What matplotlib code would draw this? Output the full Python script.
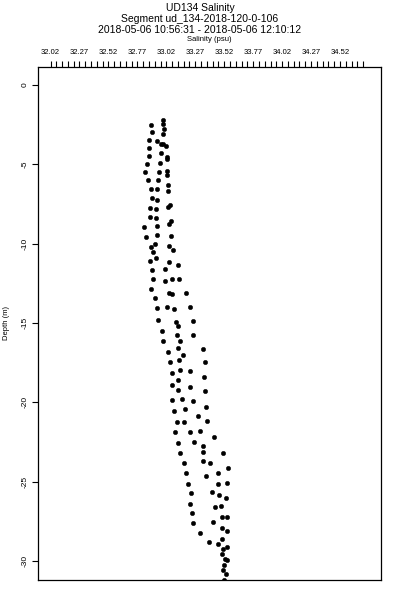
import matplotlib
matplotlib.use("Agg")
import matplotlib.pyplot as plt
import numpy as np

plt.rcParams['font.family'] = ['Liberation Sans', 'DejaVu Sans']

# salinity (psu) and depth (m)
salinity = [
    32.994, 32.885, 32.994, 33.000, 32.894, 32.989, 32.871, 32.942, 32.977, 32.994,
    33.015, 32.868, 32.972, 33.023, 33.023, 32.873, 32.968, 32.853, 32.836, 32.954,
    33.026, 33.026, 32.862, 32.948, 33.032, 32.888, 32.937, 33.035, 32.894, 32.937,
    33.049, 33.037, 32.879, 32.928, 32.879, 32.934, 33.063, 33.046, 32.827, 32.937,
    32.847, 32.940, 33.063, 32.920, 32.885, 33.041, 33.078, 32.903, 32.928, 32.879,
    33.043, 33.124, 32.897, 33.011, 32.905, 33.009, 33.067, 33.132, 32.890, 33.046,
    33.072, 33.190, 32.925,
    32.937, 33.023, 33.086, 33.225, 32.946, 33.104, 33.118, 33.248, 32.985, 33.115,
    33.248, 32.989, 33.136, 33.124, 33.334, 33.037, 33.164, 33.130, 33.052, 33.354,
    33.138, 33.222, 33.067, 33.124, 33.348, 33.072, 33.124, 33.222, 33.357, 33.072,
    33.156, 33.251, 33.363, 33.084, 33.182, 33.294, 33.112, 33.175, 33.374, 33.095,
    33.225, 33.314, 33.432, 33.124, 33.262, 33.340, 33.141, 33.337, 33.512, 33.334,
    33.175, 33.400, 33.555, 33.193, 33.464, 33.363, 33.542, 33.205, 33.469, 33.415,
    33.478, 33.538, 33.233, 33.225, 33.438, 33.490, 33.239, 33.501, 33.544, 33.253,
    33.421, 33.498, 33.542, 33.311, 33.391, 33.464, 33.504, 33.542, 33.510, 33.498,
    33.527, 33.544, 33.521, 33.510, 33.538, 33.518,
]
depth = [
    -2.21, -2.52, -2.48, -2.79, -2.98, -3.11, -3.48, -3.55, -3.70, -3.72,
    -3.86, -3.99, -4.30, -4.52, -4.68, -4.45, -4.90, -4.96, -5.46, -5.46,
    -5.40, -5.67, -6.01, -6.01, -6.32, -6.57, -6.57, -6.66, -7.12, -7.25,
    -7.58, -7.71, -7.75, -7.81, -8.34, -8.36, -8.55, -8.76, -8.95, -8.88,
    -9.56, -9.45, -9.51, -10.02, -10.21, -10.13, -10.42, -10.54, -10.92, -11.11,
    -11.17, -11.32, -11.68, -11.59, -12.24, -12.37, -12.21, -12.22, -12.85, -13.09,
    -13.19, -13.13, -13.44,
    -14.07, -14.01, -14.11, -13.97, -14.81, -14.93, -15.17, -14.89, -15.50, -15.73,
    -15.73, -16.15, -16.15, -16.55, -16.62, -16.82, -17.03, -17.33, -17.47, -17.45,
    -17.96, -18.04, -18.17, -18.59, -18.38, -18.88, -19.20, -19.03, -19.30, -19.85,
    -19.79, -19.93, -20.27, -20.52, -20.42, -20.86, -21.24, -21.22, -21.19, -21.88,
    -21.85, -21.80, -22.16, -22.54, -22.48, -22.73, -23.17, -23.14, -23.17, -23.67,
    -23.84, -23.80, -24.13, -24.47, -24.47, -24.64, -25.08, -25.12, -25.16, -25.66,
    -25.84, -26.02, -25.73, -26.38, -26.57, -26.53, -26.99, -27.22, -27.22, -27.58,
    -27.52, -27.90, -28.10, -28.21, -28.82, -28.90, -28.61, -29.09, -29.22, -29.55,
    -29.85, -29.91, -30.27, -30.56, -30.81, -31.19,
]

x_major = [32.02, 32.27, 32.52, 32.77, 33.02, 33.27, 33.52, 33.77, 34.02, 34.27, 34.52]
x_labels = ["32.02", "32.27", "32.52", "32.77", "33.02", "33.27", "33.52",
            "33.77", "34.02", "34.27", "34.52"]
y_ticks = [0, -5, -10, -15, -20, -25, -30]

fig = plt.figure(figsize=(4, 6), dpi=100)
ax = fig.add_axes([38 / 400, 1 - 580 / 600, (381 - 38) / 400, (580 - 67) / 600])

ax.plot(salinity, depth, 'o', color='black', ms=3.2, mec='black', mew=0.3)

ax.set_xlim(31.912, 34.874)
ax.set_ylim(-31.2, 1.13)

ax.xaxis.tick_top()
ax.xaxis.set_label_position('top')
ax.set_xticks(x_major)
ax.set_xticklabels(x_labels, fontsize=5.5)
ax.set_xticks(np.arange(32.02, 34.75, 0.05), minor=True)
ax.tick_params(axis='x', which='both', direction='out', length=4, width=0.8, pad=4)
ax.set_xlabel("Salinity (psu)", fontsize=5.5, labelpad=6)

ax.set_yticks(y_ticks)
ax.set_yticklabels([str(t) for t in y_ticks], fontsize=6, rotation=90, va='center')
ax.tick_params(axis='y', direction='out', length=4, width=0.8, pad=3)

for s in ax.spines.values():
    s.set_linewidth(0.9)

fig.text(7 / 400, 1 - 323 / 600, "Depth (m)", rotation=90, ha='center', va='center',
         fontsize=5.5)
fig.text(0.5, 1 - 8 / 600, "UD134 Salinity", ha='center', va='center', fontsize=7.5)
fig.text(0.5, 1 - 19 / 600, "Segment ud_134-2018-120-0-106", ha='center', va='center', fontsize=7.5)
fig.text(0.5, 1 - 30 / 600, "2018-05-06 10:56:31 - 2018-05-06 12:10:12",
         ha='center', va='center', fontsize=7.5)

fig.savefig("out.png", dpi=100)
